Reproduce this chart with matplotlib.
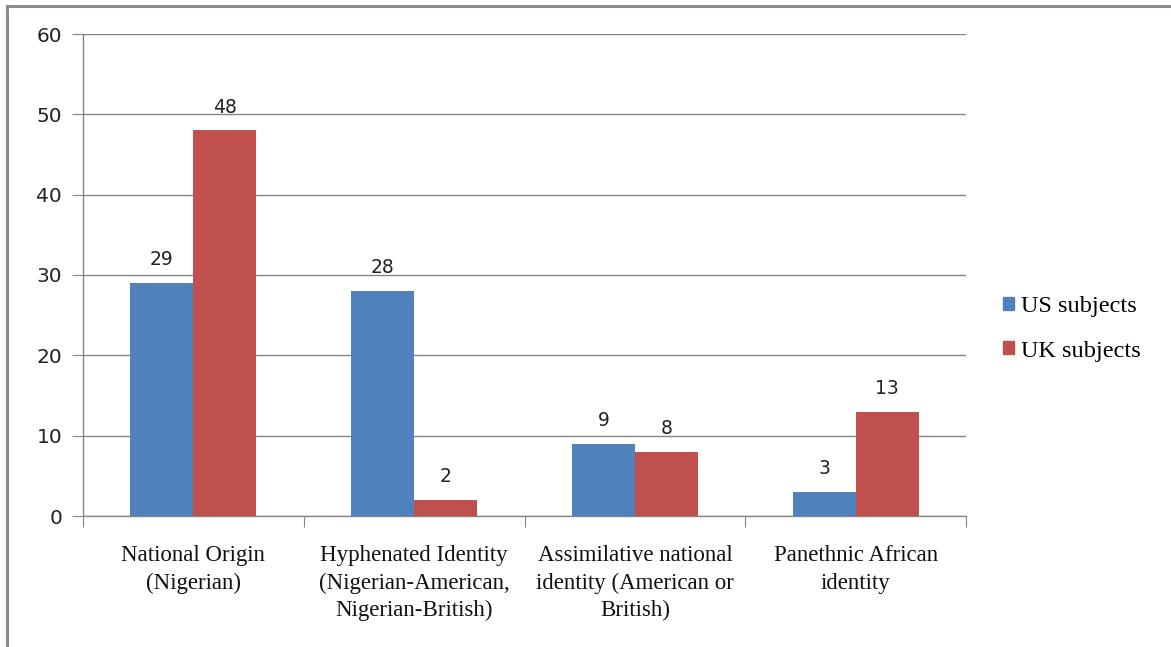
import matplotlib
matplotlib.use("Agg")
import matplotlib.pyplot as plt
import numpy as np
from matplotlib.lines import Line2D
from matplotlib.patches import Patch

categories = ["National Origin\n(Nigerian)",
              "Hyphenated Identity\n(Nigerian-American,\nNigerian-British)",
              "Assimilative national\nidentity (American or\nBritish)",
              "Panethnic African\nidentity"]
us_values = [29, 28, 9, 3]
uk_values = [48, 2, 8, 13]
series_names = ["US subjects", "UK subjects"]
yticks = [0, 10, 20, 30, 40, 50, 60]

US_COLOR = "#4F81BD"
UK_COLOR = "#C0504D"
GRID = "#868686"
SERIF = ["Liberation Serif", "DejaVu Serif"]

fig = plt.figure(figsize=(11.71, 6.47), dpi=100)
ax = fig.add_axes([83/1171, 1-516/647, 883/1171, 482/647])

x = np.arange(len(categories))
w = 0.285
b1 = ax.bar(x - w/2, us_values, w, color=US_COLOR, zorder=3)
b2 = ax.bar(x + w/2, uk_values, w, color=UK_COLOR, zorder=3)

for bars, vals in ((b1, us_values), (b2, uk_values)):
    for r, v in zip(bars, vals):
        ax.text(r.get_x() + r.get_width()/2, v + 1.7, str(v), ha="center", va="bottom",
                fontsize=13.5, color="#222222", family="DejaVu Sans")

ax.set_xlim(-0.5, len(categories) - 0.5)
ax.set_ylim(0, 60)
ax.set_yticks(yticks)
ax.set_yticklabels([str(t) for t in yticks], fontsize=14.5, family="DejaVu Sans",
                   color="#222222")
ax.yaxis.grid(True, color=GRID, linewidth=1, zorder=0)
ax.set_axisbelow(True)

ax.set_xticks(np.arange(-0.5, len(categories) + 0.5, 1.0))
ax.set_xticklabels([])
ax.set_xticks(x, minor=True)
ax.set_xticklabels(categories, minor=True, fontsize=16.5, family=SERIF, linespacing=1.4,
                   color="#111111")
ax.tick_params(axis="x", which="minor", length=0, pad=21)
ax.tick_params(axis="x", which="major", length=8, color=GRID, direction="out")
ax.tick_params(axis="y", length=8, color=GRID, direction="out", pad=7)

for s in ("top", "right"):
    ax.spines[s].set_visible(False)
for s in ("left", "bottom"):
    ax.spines[s].set_color(GRID)
    ax.spines[s].set_linewidth(1)

handles = [Patch(color=US_COLOR), Patch(color=UK_COLOR)]
fig.legend(handles, series_names, loc="center left", bbox_to_anchor=(981/1171, 1-329/647),
           frameon=False, prop={"family": SERIF, "size": 17.5}, handlelength=0.45,
           handleheight=0.45, handletextpad=0.3, labelspacing=0.95)

# outer border (left and top visible)
fig.add_artist(Line2D([7/1171, 7/1171], [0, 1-6/647], color="#8c8c8c", linewidth=2.2,
                      transform=fig.transFigure))
fig.add_artist(Line2D([7/1171, 1], [1-6/647, 1-6/647], color="#8c8c8c", linewidth=2.2,
                      transform=fig.transFigure))

fig.savefig("out.png", dpi=100)
